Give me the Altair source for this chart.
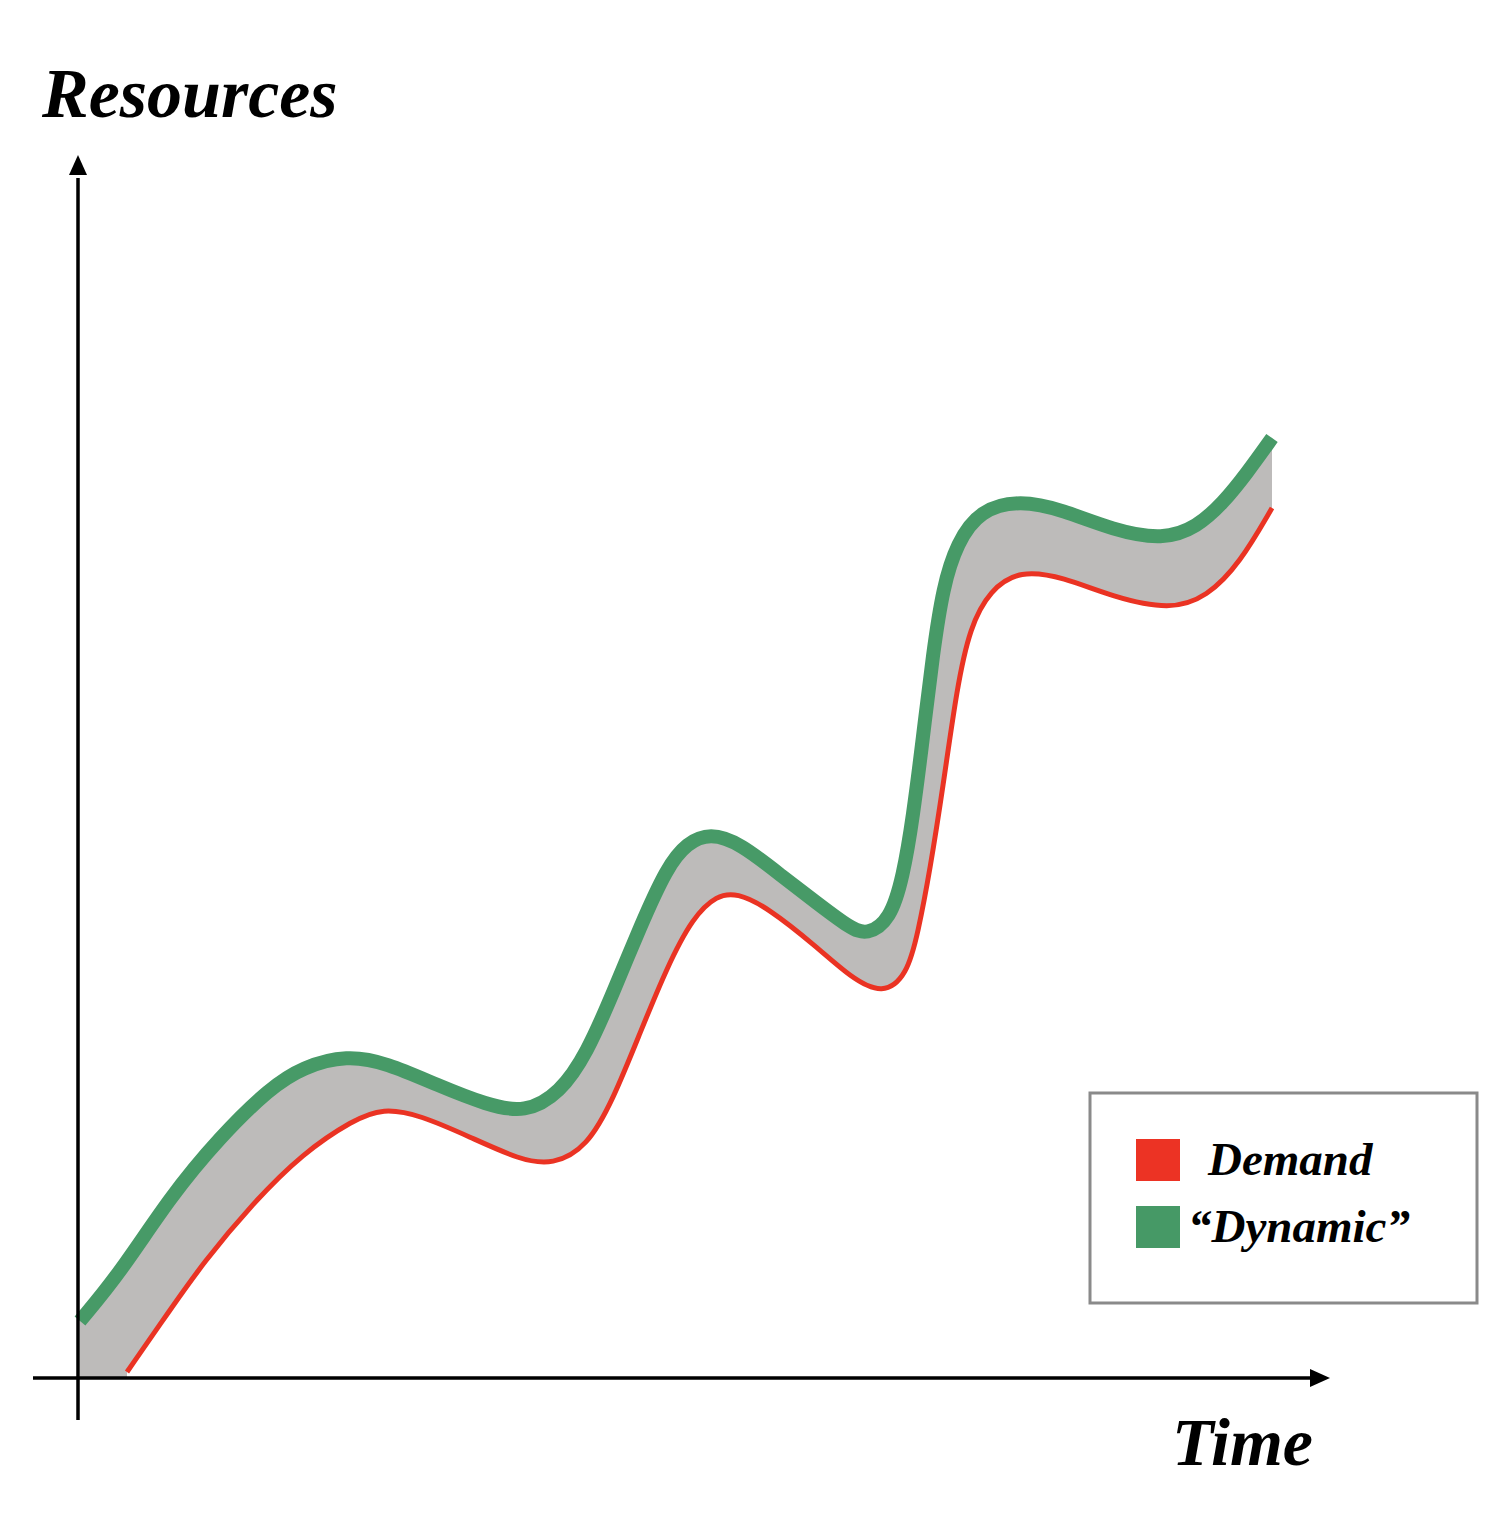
import altair as alt
import pandas as pd

# ---- data (arbitrary units: time along x, resources along y) ----
dyn_t = [0.2, 4.2, 9.2, 14.2, 19.2, 22.5, 26.9, 30.9, 35.9, 40.9, 44.7, 48.2, 50.9, 53.5,
         56.2, 58.9, 60.9, 63.2, 66.2, 70.5, 73.9, 77.2, 78.9, 81.2, 82.5, 83.5, 84.5, 85.5,
         86.5, 87.9, 90.2, 94.2, 98.5, 103.5, 108.5, 111.9, 114.5, 116.9, 119.4]
dyn_r = [5.7, 10.5, 18.1, 24.1, 29.0, 31.1, 32.3, 31.5, 29.3, 27.3, 26.5, 28.5, 32.5, 38.5,
         45.1, 51.1, 53.5, 54.5, 53.5, 50.1, 47.5, 45.0, 44.3, 45.8, 50.1, 56.1, 64.1, 72.5,
         79.1, 83.5, 86.8, 87.8, 86.8, 84.8, 83.8, 85.1, 87.5, 90.5, 94.0]

dem_t = [4.9, 9.2, 12.5, 17.5, 22.5, 27.5, 30.5, 34.2, 39.2, 44.2, 47.5, 50.9, 53.5, 56.2,
         58.9, 61.5, 63.9, 65.9, 68.9, 73.9, 77.2, 80.5, 82.9, 84.0, 85.2, 86.5, 87.9, 89.2,
         91.2, 94.2, 98.5, 103.5, 109.2, 112.9, 116.2, 119.4]
dem_r = [0.6, 6.8, 11.5, 17.5, 22.5, 25.8, 27.0, 26.3, 24.1, 21.8, 21.3, 23.1, 27.8, 34.5,
         41.1, 46.1, 48.3, 48.5, 47.1, 43.1, 40.1, 38.3, 40.3, 44.5, 50.8, 59.1, 69.1, 75.1,
         78.8, 80.8, 80.1, 78.1, 76.8, 78.1, 81.5, 87.0]

legend_labels = ["Demand", "\u201cDynamic\u201d"]
legend_colors = ["#ec3324", "#469966"]
axis_titles = ["Resources", "Time"]

# ---- scales ----
xs = alt.Scale(domain=[-7, 142], nice=False, zero=False)
ys = alt.Scale(domain=[-13.5, 137], nice=False, zero=False)

def X(f="t"):
    return alt.X(f"{f}:Q", scale=xs, axis=None)

def Y(f="r"):
    return alt.Y(f"{f}:Q", scale=ys, axis=None)

dyn = pd.DataFrame({"t": dyn_t, "r": dyn_r})
dem = pd.DataFrame({"t": dem_t, "r": dem_r})

CURVE = "basis"

gray_band = alt.Chart(dyn).mark_area(interpolate=CURVE, color="#bdbbba").encode(
    x=X(), y=Y(), y2=alt.datum(0))
white_under = alt.Chart(dem).mark_area(interpolate=CURVE, color="white").encode(
    x=X(), y=Y(), y2=alt.datum(0))
red_line = alt.Chart(dem).mark_line(interpolate=CURVE, color="#ea3323", strokeWidth=5).encode(
    x=X(), y=Y())
green_line = alt.Chart(dyn).mark_line(interpolate=CURVE, color="#479a67", strokeWidth=14,
                                      strokeCap="butt").encode(x=X(), y=Y())

axes_df = pd.DataFrame({"t": [0, -4.5], "r": [-4.2, 0], "t2": [0, 123.5], "r2": [120.0, 0]})
axes = alt.Chart(axes_df).mark_rule(color="black", strokeWidth=3.5).encode(
    x=X(), y=Y(), x2="t2:Q", y2="r2:Q")

up_head = alt.Chart(pd.DataFrame({"t": [0], "r": [121.3]})).mark_point(
    shape="M0,-1L0.9,1L-0.9,1Z", size=400, filled=True, color="black", opacity=1,
    strokeWidth=0
).encode(x=X(), y=Y())
right_head = alt.Chart(pd.DataFrame({"t": [124.2], "r": [0]})).mark_point(
    shape="M1,0L-1,0.9L-1,-0.9Z", size=400, filled=True, color="black", opacity=1,
    strokeWidth=0
).encode(x=X(), y=Y())

box = alt.Chart(pd.DataFrame({"t": [101.2], "t2": [139.9], "r": [7.5], "r2": [28.5]})).mark_rect(
    fill="white", stroke="#8a8a8a", strokeWidth=3).encode(x=X(), x2="t2:Q", y=Y(), y2="r2:Q")

sw = pd.DataFrame({"t": [105.8, 105.8], "t2": [110.2, 110.2], "r": [19.7, 13.0],
                   "r2": [23.9, 17.2], "c": legend_colors})
swatches = alt.Chart(sw).mark_rect().encode(
    x=X(), x2="t2:Q", y=Y(), y2="r2:Q", color=alt.Color("c:N", scale=None))

txt = pd.DataFrame({
    "t": [-3.6, 109.4, 113.0, 111.0],
    "r": [126.1, -8.7, 20.3, 13.6],
    "label": axis_titles + legend_labels,
    "fs": [70, 68, 47, 47],
})
texts = alt.Chart(txt).mark_text(
    font="Liberation Serif", fontWeight="bold", fontStyle="italic", align="left",
    baseline="alphabetic", color="black"
).encode(x=X(), y=Y(), text="label:N", size=alt.Size("fs:Q", scale=None))

chart = alt.layer(
    gray_band, white_under, red_line, green_line, axes, up_head, right_head,
    box, swatches, texts
).properties(width=1490, height=1505, padding=0, background="white").configure_view(strokeWidth=0)

chart.save("out.html", embed_options={"renderer": "svg", "actions": False})
